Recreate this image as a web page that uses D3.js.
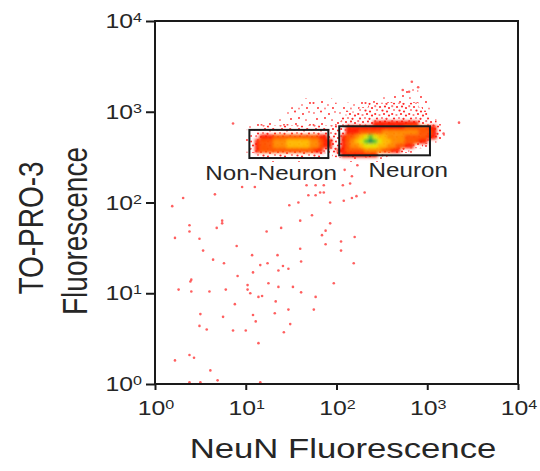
<!DOCTYPE html>
<html>
<head>
<meta charset="utf-8">
<script src="https://cdn.jsdelivr.net/npm/d3@7"></script>
<style>
body { margin: 0; background: #fff; }
text { font-family: "Liberation Sans", Arial, sans-serif; fill: #262626; }
</style>
</head>
<body>
<div id="chart"></div>
<script>
// all values are log10 fluorescence (decades)
var decades = [0, 1, 2, 3, 4];

var gateNames = ["Non-Neuron", "Neuron"];
var gateNeuN = [[1.04, 1.91], [2.03, 3.03]];
var gateTopro = [[2.49, 2.80], [2.52, 2.84]];

// density of events in the two populations, 0.05 decade cells,
// NeuN from 0.95 upward, TO-PRO-3 from 3.35 downward, run-length coded [level, cells]
var densityRows = [
  [[0,45]],
  [[0,45]],
  [[0,36],[1,3],[0,6]],
  [[0,31],[1,9],[0,5]],
  [[0,14],[1,6],[0,6],[1,15],[0,4]],
  [[0,13],[1,8],[0,1],[1,6],[2,11],[1,2],[0,4]],
  [[0,11],[1,15],[2,14],[1,2],[0,3]],
  [[0,10],[1,13],[2,18],[1,1],[0,3]],
  [[0,8],[1,14],[2,20],[1,1],[0,2]],
  [[0,3],[1,18],[2,8],[3,10],[2,4],[1,1],[0,1]],
  [[0,1],[1,3],[2,19],[3,13],[4,5],[3,2],[2,1],[0,1]],
  [[0,2],[1,1],[2,20],[3,3],[4,5],[5,8],[4,3],[3,1],[2,1],[1,1]],
  [[0,2],[1,1],[2,1],[3,3],[4,10],[3,2],[2,3],[3,1],[4,2],[5,1],[6,1],[7,1],[8,1],[7,1],[6,2],[5,4],[4,5],[3,2],[2,1],[1,1]],
  [[0,1],[1,1],[2,1],[3,1],[4,3],[5,3],[6,5],[5,2],[4,1],[3,2],[2,2],[3,1],[4,1],[5,1],[6,1],[7,1],[8,1],[9,1],[8,1],[7,1],[6,2],[5,3],[4,3],[3,2],[2,1],[1,1],[0,2]],
  [[0,1],[1,1],[2,1],[3,1],[4,3],[5,3],[6,5],[5,2],[4,1],[3,2],[2,2],[3,1],[4,1],[5,2],[6,1],[7,3],[6,2],[5,2],[4,2],[3,2],[2,2],[1,1],[0,4]],
  [[0,1],[1,1],[2,1],[3,1],[4,12],[3,2],[2,3],[3,2],[4,4],[5,4],[4,2],[3,2],[2,2],[1,1],[0,7]],
  [[0,2],[1,1],[2,15],[1,2],[2,2],[3,8],[2,2],[1,1],[0,12]],
  [[0,3],[1,15],[0,2],[1,11],[0,14]]
];
var gridNeuN0 = 0.95, gridTopro0 = 3.35, gridStep = 0.05;

// scattered single events [NeuN, TO-PRO-3]
var sparseEvents = [
  [0.31,2.05],[0.19,1.96],[0.66,2.09],[0.96,2.17],[1.10,2.17],[0.38,1.75],[0.38,1.68],[0.22,1.61],
  [0.49,1.60],[0.53,1.47],[0.74,1.80],[0.74,1.77],[0.68,1.72],[0.90,1.52],[0.64,1.37],[0.76,1.33],
  [0.40,1.15],[0.39,1.13],[0.26,1.04],[0.40,1.02],[0.60,1.02],[0.78,1.04],[0.91,1.19],[1.07,1.42],
  [1.16,1.31],[1.08,1.23],[1.02,1.09],[1.02,1.04],[1.05,1.00],[1.23,1.68],[1.24,1.33],[1.35,1.42],
  [1.36,1.25],[1.41,1.30],[1.47,1.27],[1.39,1.72],[1.48,1.97],[1.58,2.00],[1.69,2.08],[1.77,2.08],
  [1.82,2.11],[1.86,2.11],[1.86,2.19],[1.77,2.19],[1.67,2.19],[1.73,1.86],[1.60,1.80],[1.60,1.49],
  [1.61,1.35],[1.52,1.07],[1.61,1.01],[1.36,1.07],[1.25,1.11],[1.14,0.96],[1.18,0.97],[1.33,0.91],
  [1.32,0.78],[1.47,0.82],[1.49,0.66],[1.42,0.57],[1.08,0.76],[1.11,0.69],[1.00,0.59],[0.86,0.59],
  [0.75,0.74],[0.57,0.60],[0.50,0.77],[0.49,0.64],[0.88,0.88],[1.14,0.45],[0.38,0.32],[0.43,0.29],
  [0.22,0.26],[0.61,0.15],[0.69,0.04],[0.38,0.02],[0.50,0.02],[1.16,0.02],[1.75,0.82],[1.77,0.96],
  [1.97,1.11],[1.93,1.77],[1.88,1.69],[1.84,1.64],[1.88,1.54],[2.05,1.57],[2.05,1.47],[2.20,1.62],
  [2.19,1.33],[1.93,2.00],[2.08,2.02],[2.17,2.05],[2.22,2.07],[2.31,2.11],[2.07,2.19],[2.15,2.21],
  [2.09,2.36],[2.17,2.29],[2.23,2.41],[0.86,2.87],[3.35,2.88],[3.18,2.76],[3.08,2.76],[2.83,3.33],
  [2.90,3.27],[2.73,3.24],[2.80,3.22]
];

var width = 540, height = 471;
var stretch = 1.24; // the original picture is widened

var svg = d3.select("#chart").append("svg")
  .attr("width", width)
  .attr("height", height);

var x = d3.scaleLinear().domain([0, 4]).range([155, 518]);
var y = d3.scaleLinear().domain([0, 4]).range([384, 21]);

var color = d3.scaleOrdinal()
  .domain([3, 4, 5, 6, 7, 8, 9])
  .range(["#ff1e00", "#ff5500", "#ff8a00", "#ffb800", "#e6e600", "#4cc42a", "#0f8a55"]);

var defs = svg.append("defs");
defs.append("filter").attr("id", "soft")
  .attr("x", "-20%").attr("y", "-50%").attr("width", "140%").attr("height", "200%")
  .append("feGaussianBlur").attr("stdDeviation", 1.7);

// speckle textures for the thin parts of the cloud
var speckA = defs.append("pattern").attr("id", "speckA")
  .attr("patternUnits", "userSpaceOnUse").attr("width", 26).attr("height", 22);
[[2,3],[9,1.5],[17,4],[23,2],[5,9],[13,8],[20,10],[1.5,15],[10,14],[16,17],[24,15],[6,20],[13,20.5],[21,20]]
  .forEach(function(p, k) {
    speckA.append("circle").attr("cx", p[0]).attr("cy", p[1]).attr("r", 1.05)
      .attr("fill", "#ff1a1a").attr("opacity", k % 3 == 0 ? 0.5 : 0.85);
  });
var speckB = defs.append("pattern").attr("id", "speckB")
  .attr("patternUnits", "userSpaceOnUse").attr("width", 17).attr("height", 15);
[[1.2,1.2],[6,2],[11,1.5],[15,3],[3,5],[8.5,5.5],[13,6.5],[1.2,9],[5.5,10],[10,9],[15,10.5],[3,13.5],[8,13],[12.5,13.8]]
  .forEach(function(p, k) {
    speckB.append("circle").attr("cx", p[0]).attr("cy", p[1]).attr("r", 1.1)
      .attr("fill", "#ff1010").attr("opacity", k % 4 == 0 ? 0.55 : 0.9);
  });

// expand run-length rows into cells
var cells = [];
densityRows.forEach(function(row, j) {
  var i = 0;
  row.forEach(function(run) {
    for (var k = 0; k < run[1]; k++) {
      if (run[0] > 0) cells.push({i: i, j: j, level: run[0]});
      i++;
    }
  });
});

function cellX(d) { return x(gridNeuN0 + d.i * gridStep); }
function cellY(d) { return y(gridTopro0 - d.j * gridStep); }
var cw = x(gridStep) - x(0), ch = y(0) - y(gridStep);

svg.append("g").selectAll("rect")
  .data(cells)
  .enter().append("rect")
  .attr("x", cellX)
  .attr("y", cellY)
  .attr("width", cw + 0.2)
  .attr("height", ch + 0.2)
  .attr("fill", function(d) { return d.level == 1 ? "url(#speckA)" : "url(#speckB)"; });

svg.append("g")
  .attr("filter", "url(#soft)")
  .selectAll("rect")
  .data(cells.filter(function(d) { return d.level >= 3; }))
  .enter().append("rect")
  .attr("x", cellX)
  .attr("y", cellY)
  .attr("width", cw + 0.3)
  .attr("height", ch + 0.3)
  .attr("fill", function(d) { return color(d.level); });

svg.append("g").selectAll("circle")
  .data(sparseEvents)
  .enter().append("circle")
  .attr("cx", function(d) { return x(d[0]); })
  .attr("cy", function(d) { return y(d[1]); })
  .attr("r", 1.3)
  .attr("fill", "#ff2a2a")
  .attr("opacity", 0.75);

// gates
svg.append("g").selectAll("rect")
  .data(gateNames)
  .enter().append("rect")
  .attr("x", function(d, i) { return x(gateNeuN[i][0]); })
  .attr("y", function(d, i) { return y(gateTopro[i][1]); })
  .attr("width", function(d, i) { return x(gateNeuN[i][1]) - x(gateNeuN[i][0]); })
  .attr("height", function(d, i) { return y(gateTopro[i][0]) - y(gateTopro[i][1]); })
  .attr("fill", "none")
  .attr("stroke", "#1a1a1a")
  .attr("stroke-width", 2);

var labelAt = [1.28, 2.79];
gateNames.forEach(function(name, i) {
  svg.append("g")
    .attr("transform", "translate(" + x(labelAt[i]) + "," + (y(gateTopro[i][0]) + 22) + ") scale(" + stretch + ",1)")
    .append("text")
    .attr("text-anchor", "middle")
    .style("font-size", "19.5px")
    .text(name);
});

// frame and ticks
svg.append("rect")
  .attr("x", x(0)).attr("y", y(4))
  .attr("width", x(4) - x(0)).attr("height", y(0) - y(4))
  .attr("fill", "none").attr("stroke", "#1a1a1a").attr("stroke-width", 2);

var xAxis = svg.append("g")
  .attr("transform", "translate(0," + y(0) + ")")
  .call(d3.axisBottom(x).tickValues(decades).tickSize(6).tickSizeOuter(0).tickFormat(""));
var yAxis = svg.append("g")
  .attr("transform", "translate(" + x(0) + ",0)")
  .call(d3.axisLeft(y).tickValues(decades).tickSize(9).tickSizeOuter(0).tickFormat(""));
svg.selectAll(".domain").remove();
svg.selectAll(".tick line").attr("stroke", "#1a1a1a").attr("stroke-width", 2);

function powerLabel(g, k) {
  var t = g.append("text").style("font-size", "20px");
  t.append("tspan").text("10");
  t.append("tspan").attr("dy", -6).style("font-size", "13px").text(k);
  return t;
}

decades.forEach(function(k) {
  var gx = svg.append("g")
    .attr("transform", "translate(" + (x(k) + 1) + "," + (y(0) + 31) + ") scale(" + stretch + ",1)");
  powerLabel(gx, k).attr("text-anchor", "middle");
  var gy = svg.append("g")
    .attr("transform", "translate(142," + (y(k) + 7) + ") scale(" + stretch + ",1)");
  powerLabel(gy, k).attr("text-anchor", "end");
});

// axis titles
svg.append("g")
  .attr("transform", "translate(343,458) scale(" + stretch + ",1)")
  .append("text")
  .attr("text-anchor", "middle")
  .style("font-size", "28px")
  .text("NeuN Fluorescence");

svg.append("g")
  .attr("transform", "translate(43,228) scale(" + stretch + ",1) rotate(-90)")
  .append("text")
  .attr("text-anchor", "middle")
  .style("font-size", "28px")
  .text("TO-PRO-3");

svg.append("g")
  .attr("transform", "translate(87,231) scale(" + stretch + ",1) rotate(-90)")
  .append("text")
  .attr("text-anchor", "middle")
  .style("font-size", "28px")
  .text("Fluorescence");
</script>
</body>
</html>
